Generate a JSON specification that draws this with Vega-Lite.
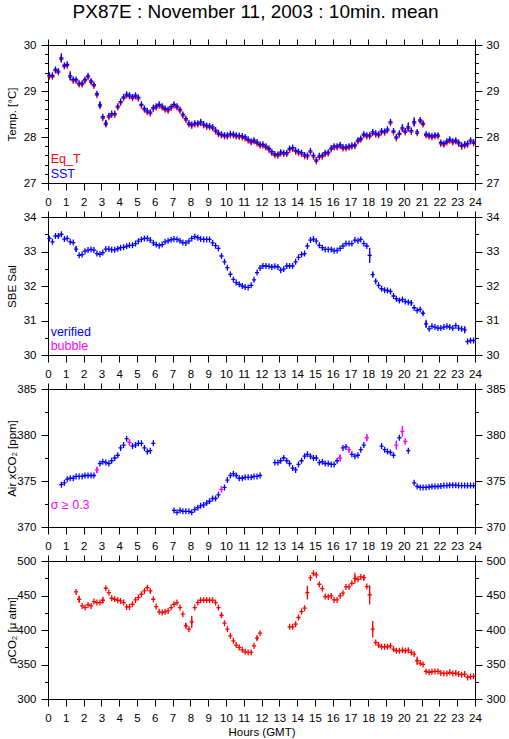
{
"$schema": "https://vega.github.io/schema/vega-lite/v6.json",
"padding": {"left": 5, "top": 2, "right": 5, "bottom": 3},
"background": "white",
"title": {"text": "PX87E : November 11, 2003 : 10min. mean", "font": "Liberation Sans", "fontSize": 19, "fontWeight": "normal", "color": "black", "anchor": "middle", "offset": 17},
"config": {
  "view": {"stroke": null},
  "axis": {"labelFont": "Liberation Sans", "labelFontSize": 11.5, "labelColor": "black", "titleFont": "Liberation Sans", "titleFontSize": 11.5, "titleFontWeight": "normal", "titleColor": "black", "domainColor": "black", "tickColor": "black", "domainWidth": 1, "tickWidth": 1, "grid": false, "labelOverlap": false, "labelFlush": false},
  "text": {"font": "Liberation Sans"}
},
"spacing": 2,
"datasets": {
"temp": [
{"h":0.08,"sst":29.34,"eqt":29.31},{"h":0.25,"sst":29.34,"eqt":29.31},{"h":0.42,"sst":29.47,"eqt":29.44},{"h":0.58,"sst":29.43,"eqt":29.40},{"h":0.75,"sst":29.72,"eqt":29.69,"e":0.1},{"h":0.92,"sst":29.56,"eqt":29.53},
{"h":1.08,"sst":29.58,"eqt":29.55},{"h":1.25,"sst":29.33,"eqt":29.30,"e":0.1},{"h":1.42,"sst":29.25,"eqt":29.22},{"h":1.58,"sst":29.25,"eqt":29.22},{"h":1.75,"sst":29.17,"eqt":29.14},{"h":1.92,"sst":29.17,"eqt":29.14},
{"h":2.08,"sst":29.25,"eqt":29.22},{"h":2.25,"sst":29.33,"eqt":29.30},{"h":2.42,"sst":29.22,"eqt":29.19},{"h":2.58,"sst":29.14,"eqt":29.11},{"h":2.75,"sst":28.94,"eqt":28.91},{"h":2.92,"sst":28.70,"eqt":28.67,"e":0.07},
{"h":3.08,"sst":28.44,"eqt":28.41},{"h":3.25,"sst":28.30,"eqt":28.27,"e":0.07},{"h":3.42,"sst":28.46,"eqt":28.43},{"h":3.58,"sst":28.51,"eqt":28.48},{"h":3.75,"sst":28.51,"eqt":28.48},{"h":3.92,"sst":28.67,"eqt":28.64},
{"h":4.08,"sst":28.77,"eqt":28.74},{"h":4.25,"sst":28.87,"eqt":28.84},{"h":4.42,"sst":28.93,"eqt":28.90},{"h":4.58,"sst":28.91,"eqt":28.88},{"h":4.75,"sst":28.87,"eqt":28.84},{"h":4.92,"sst":28.91,"eqt":28.88},
{"h":5.08,"sst":28.86,"eqt":28.83},{"h":5.25,"sst":28.71,"eqt":28.68},{"h":5.42,"sst":28.62,"eqt":28.59},{"h":5.58,"sst":28.57,"eqt":28.54},{"h":5.75,"sst":28.54,"eqt":28.51},{"h":5.92,"sst":28.64,"eqt":28.61},
{"h":6.08,"sst":28.67,"eqt":28.64},{"h":6.25,"sst":28.71,"eqt":28.68},{"h":6.42,"sst":28.67,"eqt":28.64},{"h":6.58,"sst":28.62,"eqt":28.59},{"h":6.75,"sst":28.60,"eqt":28.57},{"h":6.92,"sst":28.66,"eqt":28.63},
{"h":7.08,"sst":28.71,"eqt":28.68},{"h":7.25,"sst":28.67,"eqt":28.64},{"h":7.42,"sst":28.60,"eqt":28.57},{"h":7.58,"sst":28.49,"eqt":28.46},{"h":7.75,"sst":28.40,"eqt":28.37},{"h":7.92,"sst":28.30,"eqt":28.27},
{"h":8.08,"sst":28.27,"eqt":28.24},{"h":8.25,"sst":28.30,"eqt":28.27},{"h":8.42,"sst":28.30,"eqt":28.27},{"h":8.58,"sst":28.33,"eqt":28.30},{"h":8.75,"sst":28.28,"eqt":28.25},{"h":8.92,"sst":28.25,"eqt":28.22},
{"h":9.08,"sst":28.24,"eqt":28.21},{"h":9.25,"sst":28.22,"eqt":28.19},{"h":9.42,"sst":28.15,"eqt":28.12},{"h":9.58,"sst":28.09,"eqt":28.06},{"h":9.75,"sst":28.06,"eqt":28.03},{"h":9.92,"sst":28.04,"eqt":28.01},
{"h":10.08,"sst":28.04,"eqt":28.01},{"h":10.25,"sst":28.07,"eqt":28.04},{"h":10.42,"sst":28.06,"eqt":28.03},{"h":10.58,"sst":28.04,"eqt":28.01},{"h":10.75,"sst":28.03,"eqt":28.00},{"h":10.92,"sst":28.02,"eqt":27.99},
{"h":11.08,"sst":28.00,"eqt":27.97},{"h":11.25,"sst":27.95,"eqt":27.92},{"h":11.42,"sst":27.91,"eqt":27.88},{"h":11.58,"sst":27.93,"eqt":27.90},{"h":11.75,"sst":27.89,"eqt":27.86},{"h":11.92,"sst":27.84,"eqt":27.81},
{"h":12.08,"sst":27.84,"eqt":27.81},{"h":12.25,"sst":27.80,"eqt":27.77},{"h":12.42,"sst":27.75,"eqt":27.72},{"h":12.58,"sst":27.68,"eqt":27.65},{"h":12.75,"sst":27.63,"eqt":27.60},{"h":12.92,"sst":27.62,"eqt":27.59},
{"h":13.08,"sst":27.67,"eqt":27.64},{"h":13.25,"sst":27.66,"eqt":27.63},{"h":13.42,"sst":27.66,"eqt":27.63},{"h":13.58,"sst":27.75,"eqt":27.72},{"h":13.75,"sst":27.77,"eqt":27.74},{"h":13.92,"sst":27.71,"eqt":27.68},
{"h":14.08,"sst":27.68,"eqt":27.65},{"h":14.25,"sst":27.66,"eqt":27.63},{"h":14.42,"sst":27.61,"eqt":27.58},{"h":14.58,"sst":27.60,"eqt":27.57},{"h":14.75,"sst":27.70,"eqt":27.67},{"h":14.92,"sst":27.60,"eqt":27.57},
{"h":15.08,"sst":27.50,"eqt":27.47},{"h":15.25,"sst":27.59,"eqt":27.56},{"h":15.42,"sst":27.60,"eqt":27.57},{"h":15.58,"sst":27.66,"eqt":27.63},{"h":15.75,"sst":27.67,"eqt":27.64},{"h":15.92,"sst":27.76,"eqt":27.73},
{"h":16.08,"sst":27.80,"eqt":27.77},{"h":16.25,"sst":27.80,"eqt":27.77},{"h":16.42,"sst":27.83,"eqt":27.80},{"h":16.58,"sst":27.78,"eqt":27.75},{"h":16.75,"sst":27.78,"eqt":27.75},{"h":16.92,"sst":27.80,"eqt":27.77},
{"h":17.08,"sst":27.82,"eqt":27.79},{"h":17.25,"sst":27.83,"eqt":27.80},{"h":17.42,"sst":27.93,"eqt":27.90},{"h":17.58,"sst":27.97,"eqt":27.94},{"h":17.75,"sst":28.06,"eqt":28.03},{"h":17.92,"sst":28.04,"eqt":28.01},
{"h":18.08,"sst":28.04,"eqt":28.01},{"h":18.25,"sst":28.11,"eqt":28.08},{"h":18.42,"sst":28.08,"eqt":28.05},{"h":18.58,"sst":28.06,"eqt":28.03},{"h":18.75,"sst":28.13,"eqt":28.10},{"h":18.92,"sst":28.12,"eqt":28.09},
{"h":19.08,"sst":28.17,"eqt":28.14},{"h":19.25,"sst":28.33,"eqt":28.30},{"h":19.42,"sst":28.13,"eqt":28.10},{"h":19.58,"sst":28.00,"eqt":27.97},{"h":19.75,"sst":28.08,"eqt":28.05},{"h":19.92,"sst":28.20,"eqt":28.17,"e":0.08},
{"h":20.08,"sst":28.13,"eqt":28.10},{"h":20.25,"sst":28.22,"eqt":28.19,"e":0.1},{"h":20.42,"sst":28.14,"eqt":28.11},{"h":20.58,"sst":28.33,"eqt":28.30,"e":0.1},{"h":20.75,"sst":28.11,"eqt":28.08},{"h":20.92,"sst":28.37,"eqt":28.34},
{"h":21.08,"sst":28.30,"eqt":28.27},{"h":21.25,"sst":28.06,"eqt":28.03},{"h":21.42,"sst":28.04,"eqt":28.01},{"h":21.58,"sst":28.02,"eqt":27.99},{"h":21.75,"sst":28.04,"eqt":28.01},{"h":21.92,"sst":28.04,"eqt":28.01},
{"h":22.08,"sst":27.88,"eqt":27.85},{"h":22.25,"sst":27.86,"eqt":27.83},{"h":22.42,"sst":27.91,"eqt":27.88},{"h":22.58,"sst":27.95,"eqt":27.92},{"h":22.75,"sst":27.91,"eqt":27.88},{"h":22.92,"sst":27.93,"eqt":27.90},
{"h":23.08,"sst":27.88,"eqt":27.85},{"h":23.25,"sst":27.82,"eqt":27.79},{"h":23.42,"sst":27.84,"eqt":27.81,"e":0.06},{"h":23.58,"sst":27.86,"eqt":27.83},{"h":23.75,"sst":27.93,"eqt":27.90},{"h":23.92,"sst":27.89,"eqt":27.86}
],
"sal": [
{"h":0.08,"s":33.38},{"h":0.25,"s":33.28},{"h":0.42,"s":33.45},{"h":0.58,"s":33.45},{"h":0.75,"s":33.50},{"h":0.92,"s":33.36},
{"h":1.08,"s":33.38},{"h":1.25,"s":33.28},{"h":1.42,"s":33.26},{"h":1.58,"s":33.07,"e":0.08},{"h":1.75,"s":32.89},{"h":1.92,"s":32.91},
{"h":2.08,"s":33.01},{"h":2.25,"s":33.04},{"h":2.42,"s":33.06},{"h":2.58,"s":33.04},{"h":2.75,"s":32.94},{"h":2.92,"s":32.92},
{"h":3.08,"s":32.97},{"h":3.25,"s":33.07},{"h":3.42,"s":33.07},{"h":3.58,"s":33.05},{"h":3.75,"s":33.05},{"h":3.92,"s":33.08},
{"h":4.08,"s":33.11},{"h":4.25,"s":33.12},{"h":4.42,"s":33.15},{"h":4.58,"s":33.18},{"h":4.75,"s":33.18},{"h":4.92,"s":33.23},
{"h":5.08,"s":33.30},{"h":5.25,"s":33.35},{"h":5.42,"s":33.38},{"h":5.58,"s":33.38},{"h":5.75,"s":33.33},{"h":5.92,"s":33.25},
{"h":6.08,"s":33.20},{"h":6.25,"s":33.17},{"h":6.42,"s":33.20},{"h":6.58,"s":33.28},{"h":6.75,"s":33.31},{"h":6.92,"s":33.34},
{"h":7.08,"s":33.36},{"h":7.25,"s":33.35},{"h":7.42,"s":33.31},{"h":7.58,"s":33.26},{"h":7.75,"s":33.25},{"h":7.92,"s":33.30},
{"h":8.08,"s":33.38},{"h":8.25,"s":33.43},{"h":8.42,"s":33.40},{"h":8.58,"s":33.36},{"h":8.75,"s":33.35},{"h":8.92,"s":33.35},
{"h":9.08,"s":33.35},{"h":9.25,"s":33.25},{"h":9.42,"s":33.17},{"h":9.58,"s":33.09},{"h":9.75,"s":32.87},{"h":9.92,"s":32.70},
{"h":10.08,"s":32.53},{"h":10.25,"s":32.34},{"h":10.42,"s":32.19},{"h":10.58,"s":32.10},{"h":10.75,"s":32.05},{"h":10.92,"s":32.00},
{"h":11.08,"s":31.97},{"h":11.25,"s":31.96},{"h":11.42,"s":32.02},{"h":11.58,"s":32.18},{"h":11.75,"s":32.39},{"h":11.92,"s":32.52},
{"h":12.08,"s":32.58},{"h":12.25,"s":32.58},{"h":12.42,"s":32.57},{"h":12.58,"s":32.55},{"h":12.75,"s":32.57},{"h":12.92,"s":32.55},
{"h":13.08,"s":32.46},{"h":13.25,"s":32.49},{"h":13.42,"s":32.58},{"h":13.58,"s":32.58},{"h":13.75,"s":32.58},{"h":13.92,"s":32.70},
{"h":14.08,"s":32.83},{"h":14.25,"s":32.91},{"h":14.42,"s":32.94},{"h":14.58,"s":33.16},{"h":14.75,"s":33.33},{"h":14.92,"s":33.36},
{"h":15.08,"s":33.30},{"h":15.25,"s":33.18},{"h":15.42,"s":33.11},{"h":15.58,"s":33.06},{"h":15.75,"s":33.06},{"h":15.92,"s":33.06},
{"h":16.08,"s":33.02},{"h":16.25,"s":33.03},{"h":16.42,"s":33.09},{"h":16.58,"s":33.16},{"h":16.75,"s":33.23},{"h":16.92,"s":33.23},
{"h":17.08,"s":33.23},{"h":17.25,"s":33.33},{"h":17.42,"s":33.31},{"h":17.58,"s":33.35},{"h":17.75,"s":33.23},{"h":17.92,"s":33.16},
{"h":18.08,"s":32.89,"e":0.22},{"h":18.25,"s":32.33,"e":0.08},{"h":18.42,"s":32.14},{"h":18.58,"s":32.02},{"h":18.75,"s":31.92},{"h":18.92,"s":31.88},
{"h":19.08,"s":31.87},{"h":19.25,"s":31.84},{"h":19.42,"s":31.71},{"h":19.58,"s":31.63},{"h":19.75,"s":31.58},{"h":19.92,"s":31.61},
{"h":20.08,"s":31.55},{"h":20.25,"s":31.53},{"h":20.42,"s":31.51,"e":0.06},{"h":20.58,"s":31.37},{"h":20.75,"s":31.29},{"h":20.92,"s":31.32},
{"h":21.08,"s":31.21,"e":0.05},{"h":21.25,"s":30.90,"e":0.12},{"h":21.42,"s":30.76},{"h":21.58,"s":30.83},{"h":21.75,"s":30.81},{"h":21.92,"s":30.78},
{"h":22.08,"s":30.78},{"h":22.25,"s":30.81},{"h":22.42,"s":30.83},{"h":22.58,"s":30.81},{"h":22.75,"s":30.78},{"h":22.92,"s":30.85},
{"h":23.08,"s":30.78},{"h":23.25,"s":30.76},{"h":23.42,"s":30.73,"e":0.1},{"h":23.58,"s":30.39},{"h":23.75,"s":30.42},{"h":23.92,"s":30.42}
],
"xco2": [
{"h":0.75,"c":374.6,"f":0},{"h":0.92,"c":374.8,"f":0},{"h":1.08,"c":375.2,"f":0},{"h":1.25,"c":375.3,"f":0},{"h":1.42,"c":375.3,"f":0},{"h":1.58,"c":375.5,"f":0},
{"h":1.75,"c":375.5,"f":0},{"h":1.92,"c":375.5,"f":0},{"h":2.08,"c":375.6,"f":0},{"h":2.25,"c":375.6,"f":0},{"h":2.42,"c":375.6,"f":0},{"h":2.58,"c":375.6,"f":0},
{"h":2.75,"c":376.2,"f":1,"e":0.35},{"h":2.92,"c":376.9,"f":0},{"h":3.08,"c":377.1,"f":0},{"h":3.25,"c":377.0,"f":0},{"h":3.42,"c":376.9,"f":0},{"h":3.58,"c":377.2,"f":0},
{"h":3.75,"c":377.5,"f":0},{"h":3.92,"c":377.8,"f":0},{"h":4.08,"c":378.6,"f":0},{"h":4.25,"c":378.9,"f":0},{"h":4.42,"c":379.6,"f":0},{"h":4.58,"c":379.2,"f":1,"e":0.35},
{"h":4.75,"c":378.8,"f":0},{"h":4.92,"c":378.9,"f":0},{"h":5.08,"c":379.1,"f":0},{"h":5.25,"c":379.1,"f":0},{"h":5.42,"c":378.6,"f":0},{"h":5.58,"c":378.2,"f":0},
{"h":5.75,"c":378.3,"f":0},{"h":5.92,"c":379.1,"f":0},
{"h":7.08,"c":371.8,"f":0},{"h":7.25,"c":371.6,"f":0},{"h":7.42,"c":371.8,"f":0},{"h":7.58,"c":371.7,"f":0},{"h":7.75,"c":371.7,"f":0},{"h":7.92,"c":371.7,"f":0},
{"h":8.08,"c":371.6,"f":0},{"h":8.25,"c":371.9,"f":0},{"h":8.42,"c":372.1,"f":0},{"h":8.58,"c":372.3,"f":0},{"h":8.75,"c":372.4,"f":0},{"h":8.92,"c":372.6,"f":0},
{"h":9.08,"c":372.8,"f":0},{"h":9.25,"c":373.1,"f":0},{"h":9.42,"c":373.1,"f":0},{"h":9.58,"c":373.5,"f":0},{"h":9.75,"c":374.1,"f":1,"e":0.35},{"h":9.92,"c":374.3,"f":0},
{"h":10.08,"c":375.1,"f":0},{"h":10.25,"c":375.6,"f":0},{"h":10.42,"c":375.8,"f":0},{"h":10.58,"c":375.6,"f":0},{"h":10.75,"c":375.3,"f":0},{"h":10.92,"c":375.3,"f":0},
{"h":11.08,"c":375.4,"f":0},{"h":11.25,"c":375.4,"f":0},{"h":11.42,"c":375.4,"f":0},{"h":11.58,"c":375.5,"f":0},{"h":11.75,"c":375.5,"f":0},{"h":11.92,"c":375.6,"f":0},
{"h":12.75,"c":377.0,"f":0},{"h":12.92,"c":377.0,"f":0},
{"h":13.08,"c":377.2,"f":0},{"h":13.25,"c":377.5,"f":0},{"h":13.42,"c":377.2,"f":0},{"h":13.58,"c":376.9,"f":0},{"h":13.75,"c":376.4,"f":0},{"h":13.92,"c":376.2,"f":0},
{"h":14.08,"c":376.8,"f":0},{"h":14.25,"c":377.2,"f":0},{"h":14.42,"c":377.7,"f":0},{"h":14.58,"c":377.9,"f":0},{"h":14.75,"c":377.7,"f":0},{"h":14.92,"c":377.5,"f":0},
{"h":15.08,"c":377.5,"f":0},{"h":15.25,"c":377.0,"f":0},{"h":15.42,"c":377.1,"f":0},{"h":15.58,"c":376.9,"f":0},{"h":15.75,"c":376.9,"f":0},{"h":15.92,"c":376.8,"f":0},
{"h":16.08,"c":376.8,"f":0},{"h":16.25,"c":377.2,"f":0},{"h":16.42,"c":377.5,"f":1,"e":0.4},{"h":16.58,"c":378.6,"f":0},{"h":16.75,"c":378.7,"f":0},{"h":16.92,"c":378.4,"f":1,"e":0.3},
{"h":17.08,"c":377.9,"f":0},{"h":17.25,"c":377.7,"f":0},{"h":17.42,"c":377.8,"f":0},{"h":17.58,"c":378.4,"f":0},{"h":17.75,"c":378.9,"f":0},{"h":17.92,"c":379.7,"f":1,"e":0.4},
{"h":18.75,"c":378.8,"f":0},{"h":18.92,"c":378.4,"f":0},
{"h":19.08,"c":378.2,"f":0},{"h":19.25,"c":378.1,"f":0},{"h":19.42,"c":377.8,"f":0},{"h":19.58,"c":378.9,"f":1,"e":0.5},{"h":19.75,"c":379.7,"f":0},{"h":19.92,"c":380.4,"f":1,"e":0.6},
{"h":20.08,"c":379.3,"f":1,"e":0.3},{"h":20.25,"c":378.3,"f":0},{"h":20.58,"c":374.8,"f":0},{"h":20.75,"c":374.4,"f":0},{"h":20.92,"c":374.3,"f":0},
{"h":21.08,"c":374.3,"f":0},{"h":21.25,"c":374.3,"f":0},{"h":21.42,"c":374.35,"f":0},{"h":21.58,"c":374.4,"f":0},{"h":21.75,"c":374.4,"f":0},{"h":21.92,"c":374.4,"f":0},
{"h":22.08,"c":374.45,"f":0},{"h":22.25,"c":374.5,"f":0},{"h":22.42,"c":374.5,"f":0},{"h":22.58,"c":374.55,"f":0},{"h":22.75,"c":374.55,"f":0},{"h":22.92,"c":374.55,"f":0},
{"h":23.08,"c":374.5,"f":0},{"h":23.25,"c":374.5,"f":0},{"h":23.42,"c":374.5,"f":0},{"h":23.58,"c":374.5,"f":0},{"h":23.75,"c":374.5,"f":0},{"h":23.92,"c":374.5,"f":0}
],
"pco2": [
{"h":1.58,"p":455.2},{"h":1.75,"p":444.6,"e":5},{"h":1.92,"p":434.9},
{"h":2.08,"p":432.5},{"h":2.25,"p":436.4},{"h":2.42,"p":434.9},{"h":2.58,"p":441.2},{"h":2.75,"p":439.8},{"h":2.92,"p":439.8},
{"h":3.08,"p":443.1,"e":5},{"h":3.25,"p":460.5},{"h":3.42,"p":454.2},{"h":3.58,"p":446.0},{"h":3.75,"p":444.6},{"h":3.92,"p":443.1},
{"h":4.08,"p":442.2},{"h":4.25,"p":439.8},{"h":4.42,"p":433.5},{"h":4.58,"p":433.5},{"h":4.75,"p":437.3},{"h":4.92,"p":443.6},
{"h":5.08,"p":447.0},{"h":5.25,"p":451.8},{"h":5.42,"p":456.6},{"h":5.58,"p":461.4},{"h":5.75,"p":456.6},{"h":5.92,"p":444.6},
{"h":6.08,"p":434.0},{"h":6.25,"p":426.3},{"h":6.42,"p":425.3},{"h":6.58,"p":426.3},{"h":6.75,"p":427.7},{"h":6.92,"p":432.5},
{"h":7.08,"p":437.3},{"h":7.25,"p":439.8},{"h":7.42,"p":432.5},{"h":7.58,"p":422.9},{"h":7.75,"p":406.0,"e":4},{"h":7.92,"p":401.2},
{"h":8.08,"p":411.8,"e":9},{"h":8.25,"p":432.5},{"h":8.42,"p":439.8},{"h":8.58,"p":443.1},{"h":8.75,"p":443.1},{"h":8.92,"p":443.1},
{"h":9.08,"p":443.1},{"h":9.25,"p":443.1},{"h":9.42,"p":439.8},{"h":9.58,"p":432.5},{"h":9.75,"p":421.4,"e":4},{"h":9.92,"p":409.9},
{"h":10.08,"p":401.2},{"h":10.25,"p":391.6},{"h":10.42,"p":384.3},{"h":10.58,"p":378.1},{"h":10.75,"p":374.7},{"h":10.92,"p":371.3},
{"h":11.08,"p":368.4},{"h":11.25,"p":367.5},{"h":11.42,"p":367.5},{"h":11.58,"p":377.1},{"h":11.75,"p":388.2,"e":3},{"h":11.92,"p":395.4},
{"h":13.58,"p":404.6},{"h":13.75,"p":404.6},{"h":13.92,"p":408.4},
{"h":14.08,"p":418.1},{"h":14.25,"p":426.7},{"h":14.42,"p":431.6},{"h":14.58,"p":454.2,"e":10},{"h":14.75,"p":475.4},{"h":14.92,"p":482.2},
{"h":15.08,"p":479.8},{"h":15.25,"p":466.3},{"h":15.42,"p":460.0},{"h":15.58,"p":448.4},{"h":15.75,"p":448.0},{"h":15.92,"p":449.4},
{"h":16.08,"p":443.6},{"h":16.25,"p":443.6},{"h":16.42,"p":449.4},{"h":16.58,"p":453.3},{"h":16.75,"p":462.4},{"h":16.92,"p":462.4},
{"h":17.08,"p":467.7},{"h":17.25,"p":474.9,"e":8},{"h":17.42,"p":473.5},{"h":17.58,"p":476.9},{"h":17.75,"p":475.9,"e":4},{"h":17.92,"p":462.9},
{"h":18.08,"p":450.8,"e":14},{"h":18.25,"p":401.2,"e":12},{"h":18.42,"p":381.9},{"h":18.58,"p":378.1},{"h":18.75,"p":375.7},{"h":18.92,"p":375.7},
{"h":19.08,"p":375.7},{"h":19.25,"p":377.1},{"h":19.42,"p":372.3},{"h":19.58,"p":369.9},{"h":19.75,"p":369.9},{"h":19.92,"p":370.8},
{"h":20.08,"p":369.9},{"h":20.25,"p":370.8},{"h":20.42,"p":367.5},{"h":20.58,"p":365.1},{"h":20.75,"p":355.4,"e":6},{"h":20.92,"p":352.0},
{"h":21.08,"p":350.1},{"h":21.25,"p":340.0},{"h":21.42,"p":338.6},{"h":21.58,"p":339.5},{"h":21.75,"p":340.0},{"h":21.92,"p":340.0},
{"h":22.08,"p":337.6},{"h":22.25,"p":337.1},{"h":22.42,"p":337.1},{"h":22.58,"p":338.6},{"h":22.75,"p":337.1},{"h":22.92,"p":337.6},
{"h":23.08,"p":336.1},{"h":23.25,"p":335.2},{"h":23.42,"p":336.1},{"h":23.58,"p":331.3},{"h":23.75,"p":332.3},{"h":23.92,"p":332.8}
]
},
"vconcat": [
{
 "width": 427, "height": 138,
 "data": {"name": "temp"},
 "resolve": {"axis": {"x": "independent", "y": "independent"}},
 "layer": [
  {"data": {"values": [{}]}, "mark": {"type": "point", "opacity": 0},
   "encoding": {
    "x": {"datum": 0, "type": "quantitative", "scale": {"domain": [0, 24], "nice": false, "zero": false}, "axis": {"orient": "bottom", "values": [0,1,2,3,4,5,6,7,8,9,10,11,12,13,14,15,16,17,18,19,20,21,22,23,24], "title": null, "tickSize": 7, "labelPadding": 6, "labelOverlap": false, "labelFlush": false}},
    "y": {"datum": 27, "type": "quantitative", "scale": {"domain": [27, 30], "nice": false, "zero": false}, "axis": {"orient": "left", "values": [27,28,29,30], "format": "d", "labelOverlap": false, "tickSize": 7, "labelPadding": 5, "title": "Temp. [°C]", "titleX": -36, "titleBaseline": "middle"}}
   }},
  {"data": {"values": [{}]}, "mark": {"type": "point", "opacity": 0},
   "encoding": {
    "x": {"datum": 0, "type": "quantitative", "axis": null},
    "y": {"datum": 27, "type": "quantitative", "axis": {"orient": "left", "values": [27.2,27.4,27.6,27.8,28.2,28.4,28.6,28.8,29.2,29.4,29.6,29.8], "tickCount": 50, "labels": false, "tickSize": 3.5, "title": null}}
   }},
  {"mark": {"type": "point", "shape": "M-0.7,0H0.7M0,-1V1", "size": 36, "filled": false, "stroke": "#ff0000", "strokeWidth": 1.3, "opacity": 1},
   "encoding": {"x": {"field": "h", "type": "quantitative", "scale": {"domain": [0, 24], "nice": false, "zero": false}, "axis": null}, "y": {"field": "eqt", "type": "quantitative", "scale": {"domain": [27, 30], "nice": false, "zero": false}, "axis": null}}},
  {"mark": {"type": "point", "shape": "M-0.7,0H0.7M0,-1V1", "size": 36, "filled": false, "stroke": "#0000ff", "strokeWidth": 1.3, "opacity": 1},
   "encoding": {"x": {"field": "h", "type": "quantitative", "scale": {"domain": [0, 24], "nice": false, "zero": false}, "axis": null}, "y": {"field": "sst", "type": "quantitative", "scale": {"domain": [27, 30], "nice": false, "zero": false}, "axis": null}}},
  {"transform": [{"filter": "datum.e > 0"}], "mark": {"type": "errorbar", "color": "#0000ff", "thickness": 1.3},
   "encoding": {"x": {"field": "h", "type": "quantitative", "scale": {"domain": [0, 24], "nice": false, "zero": false}, "axis": null}, "y": {"field": "sst", "type": "quantitative", "scale": {"domain": [27, 30], "nice": false, "zero": false}, "axis": null}, "yError": {"field": "e"}}},
  {"data": {"values": [{}]}, "mark": {"type": "text", "align": "left", "baseline": "middle", "fontSize": 12.5, "color": "#ff0000"},
   "encoding": {"x": {"datum": 0.15, "type": "quantitative", "axis": null}, "y": {"datum": 27.52, "type": "quantitative", "axis": null}, "text": {"value": "Eq_T"}}},
  {"data": {"values": [{}]}, "mark": {"type": "text", "align": "left", "baseline": "middle", "fontSize": 12.5, "color": "#0000ff"},
   "encoding": {"x": {"datum": 0.15, "type": "quantitative", "axis": null}, "y": {"datum": 27.2, "type": "quantitative", "axis": null}, "text": {"value": "SST"}}},
  {"data": {"values": [{}]}, "mark": {"type": "point", "opacity": 0},
   "encoding": {
    "x": {"datum": 0, "type": "quantitative", "axis": {"orient": "top", "values": [0,1,2,3,4,5,6,7,8,9,10,11,12,13,14,15,16,17,18,19,20,21,22,23,24], "labels": false, "title": null, "tickSize": 6}},
    "y": {"datum": 27, "type": "quantitative", "axis": {"orient": "right", "values": [27,28,29,30], "format": "d", "labelOverlap": false, "tickSize": 7, "labelPadding": 4, "title": null}}
   }},
  {"data": {"values": [{}]}, "mark": {"type": "point", "opacity": 0},
   "encoding": {
    "x": {"datum": 0, "type": "quantitative", "axis": null},
    "y": {"datum": 27, "type": "quantitative", "axis": {"orient": "right", "values": [27.2,27.4,27.6,27.8,28.2,28.4,28.6,28.8,29.2,29.4,29.6,29.8], "tickCount": 50, "labels": false, "tickSize": 3.5, "title": null}}
   }}
 ]
},
{
 "width": 427, "height": 138,
 "data": {"name": "sal"},
 "resolve": {"axis": {"x": "independent", "y": "independent"}},
 "layer": [
  {"data": {"values": [{}]}, "mark": {"type": "point", "opacity": 0},
   "encoding": {
    "x": {"datum": 0, "type": "quantitative", "scale": {"domain": [0, 24], "nice": false, "zero": false}, "axis": {"orient": "bottom", "values": [0,1,2,3,4,5,6,7,8,9,10,11,12,13,14,15,16,17,18,19,20,21,22,23,24], "title": null, "tickSize": 7, "labelPadding": 6, "labelOverlap": false, "labelFlush": false}},
    "y": {"datum": 30, "type": "quantitative", "scale": {"domain": [30, 34], "nice": false, "zero": false}, "axis": {"orient": "left", "values": [30,31,32,33,34], "format": "d", "labelOverlap": false, "tickSize": 7, "labelPadding": 5, "title": "SBE Sal", "titleX": -36, "titleBaseline": "middle"}}
   }},
  {"data": {"values": [{}]}, "mark": {"type": "point", "opacity": 0},
   "encoding": {
    "x": {"datum": 0, "type": "quantitative", "axis": null},
    "y": {"datum": 30, "type": "quantitative", "axis": {"orient": "left", "values": [30.5,31.5,32.5,33.5], "tickCount": 50, "labels": false, "tickSize": 3.5, "title": null}}
   }},
  {"mark": {"type": "point", "shape": "M-0.7,0H0.7M0,-1V1", "size": 36, "filled": false, "stroke": "#0000ff", "strokeWidth": 1.3, "opacity": 1},
   "encoding": {"x": {"field": "h", "type": "quantitative", "scale": {"domain": [0, 24], "nice": false, "zero": false}, "axis": null}, "y": {"field": "s", "type": "quantitative", "scale": {"domain": [30, 34], "nice": false, "zero": false}, "axis": null}}},
  {"transform": [{"filter": "datum.e > 0"}], "mark": {"type": "errorbar", "color": "#0000ff", "thickness": 1.3},
   "encoding": {"x": {"field": "h", "type": "quantitative", "scale": {"domain": [0, 24], "nice": false, "zero": false}, "axis": null}, "y": {"field": "s", "type": "quantitative", "scale": {"domain": [30, 34], "nice": false, "zero": false}, "axis": null}, "yError": {"field": "e"}}},
  {"data": {"values": [{}]}, "mark": {"type": "text", "align": "left", "baseline": "middle", "fontSize": 12.5, "color": "#0000ff"},
   "encoding": {"x": {"datum": 0.15, "type": "quantitative", "axis": null}, "y": {"datum": 30.66, "type": "quantitative", "axis": null}, "text": {"value": "verified"}}},
  {"data": {"values": [{}]}, "mark": {"type": "text", "align": "left", "baseline": "middle", "fontSize": 12.5, "color": "#ff00ff"},
   "encoding": {"x": {"datum": 0.15, "type": "quantitative", "axis": null}, "y": {"datum": 30.27, "type": "quantitative", "axis": null}, "text": {"value": "bubble"}}},
  {"data": {"values": [{}]}, "mark": {"type": "point", "opacity": 0},
   "encoding": {
    "x": {"datum": 0, "type": "quantitative", "axis": {"orient": "top", "values": [0,1,2,3,4,5,6,7,8,9,10,11,12,13,14,15,16,17,18,19,20,21,22,23,24], "labels": false, "title": null, "tickSize": 6}},
    "y": {"datum": 30, "type": "quantitative", "axis": {"orient": "right", "values": [30,31,32,33,34], "format": "d", "labelOverlap": false, "tickSize": 7, "labelPadding": 4, "title": null}}
   }},
  {"data": {"values": [{}]}, "mark": {"type": "point", "opacity": 0},
   "encoding": {
    "x": {"datum": 0, "type": "quantitative", "axis": null},
    "y": {"datum": 30, "type": "quantitative", "axis": {"orient": "right", "values": [30.5,31.5,32.5,33.5], "tickCount": 50, "labels": false, "tickSize": 3.5, "title": null}}
   }}
 ]
},
{
 "width": 427, "height": 138,
 "data": {"name": "xco2"},
 "resolve": {"axis": {"x": "independent", "y": "independent"}},
 "layer": [
  {"data": {"values": [{}]}, "mark": {"type": "point", "opacity": 0},
   "encoding": {
    "x": {"datum": 0, "type": "quantitative", "scale": {"domain": [0, 24], "nice": false, "zero": false}, "axis": {"orient": "bottom", "values": [0,1,2,3,4,5,6,7,8,9,10,11,12,13,14,15,16,17,18,19,20,21,22,23,24], "title": null, "tickSize": 7, "labelPadding": 6, "labelOverlap": false, "labelFlush": false}},
    "y": {"datum": 370, "type": "quantitative", "scale": {"domain": [370, 385], "nice": false, "zero": false}, "axis": {"orient": "left", "values": [370,375,380,385], "format": "d", "labelOverlap": false, "tickSize": 7, "labelPadding": 5, "title": "Air xCO₂ [ppm]", "titleX": -36, "titleBaseline": "middle"}}
   }},
  {"data": {"values": [{}]}, "mark": {"type": "point", "opacity": 0},
   "encoding": {
    "x": {"datum": 0, "type": "quantitative", "axis": null},
    "y": {"datum": 370, "type": "quantitative", "axis": {"orient": "left", "values": [372.5,377.5,382.5], "tickCount": 50, "labels": false, "tickSize": 3.5, "title": null}}
   }},
  {"transform": [{"filter": "datum.f != 1"}], "mark": {"type": "point", "shape": "M-0.7,0H0.7M0,-1V1", "size": 36, "filled": false, "stroke": "#0000ff", "strokeWidth": 1.3, "opacity": 1},
   "encoding": {"x": {"field": "h", "type": "quantitative", "scale": {"domain": [0, 24], "nice": false, "zero": false}, "axis": null}, "y": {"field": "c", "type": "quantitative", "scale": {"domain": [370, 385], "nice": false, "zero": false}, "axis": null}}},
  {"transform": [{"filter": "datum.f == 1"}], "mark": {"type": "point", "shape": "M-0.7,0H0.7M0,-1V1", "size": 36, "filled": false, "stroke": "#ff00ff", "strokeWidth": 1.3, "opacity": 1},
   "encoding": {"x": {"field": "h", "type": "quantitative", "scale": {"domain": [0, 24], "nice": false, "zero": false}, "axis": null}, "y": {"field": "c", "type": "quantitative", "scale": {"domain": [370, 385], "nice": false, "zero": false}, "axis": null}}},
  {"transform": [{"filter": "datum.e > 0"}], "mark": {"type": "errorbar", "color": "#ff00ff", "thickness": 1.3},
   "encoding": {"x": {"field": "h", "type": "quantitative", "scale": {"domain": [0, 24], "nice": false, "zero": false}, "axis": null}, "y": {"field": "c", "type": "quantitative", "scale": {"domain": [370, 385], "nice": false, "zero": false}, "axis": null}, "yError": {"field": "e"}}},
  {"data": {"values": [{}]}, "mark": {"type": "text", "align": "left", "baseline": "middle", "fontSize": 12.5, "color": "#ff00ff"},
   "encoding": {"x": {"datum": 0.15, "type": "quantitative", "axis": null}, "y": {"datum": 372.4, "type": "quantitative", "axis": null}, "text": {"value": "σ ≥ 0.3"}}},
  {"data": {"values": [{}]}, "mark": {"type": "point", "opacity": 0},
   "encoding": {
    "x": {"datum": 0, "type": "quantitative", "axis": {"orient": "top", "values": [0,1,2,3,4,5,6,7,8,9,10,11,12,13,14,15,16,17,18,19,20,21,22,23,24], "labels": false, "title": null, "tickSize": 6}},
    "y": {"datum": 370, "type": "quantitative", "axis": {"orient": "right", "values": [370,375,380,385], "format": "d", "labelOverlap": false, "tickSize": 7, "labelPadding": 4, "title": null}}
   }},
  {"data": {"values": [{}]}, "mark": {"type": "point", "opacity": 0},
   "encoding": {
    "x": {"datum": 0, "type": "quantitative", "axis": null},
    "y": {"datum": 370, "type": "quantitative", "axis": {"orient": "right", "values": [372.5,377.5,382.5], "tickCount": 50, "labels": false, "tickSize": 3.5, "title": null}}
   }}
 ]
},
{
 "width": 427, "height": 138,
 "data": {"name": "pco2"},
 "resolve": {"axis": {"x": "independent", "y": "independent"}},
 "layer": [
  {"data": {"values": [{}]}, "mark": {"type": "point", "opacity": 0},
   "encoding": {
    "x": {"datum": 0, "type": "quantitative", "scale": {"domain": [0, 24], "nice": false, "zero": false}, "axis": {"orient": "bottom", "values": [0,1,2,3,4,5,6,7,8,9,10,11,12,13,14,15,16,17,18,19,20,21,22,23,24], "title": "Hours (GMT)", "titlePadding": 3, "tickSize": 7, "labelPadding": 6, "labelOverlap": false, "labelFlush": false}},
    "y": {"datum": 300, "type": "quantitative", "scale": {"domain": [300, 500], "nice": false, "zero": false}, "axis": {"orient": "left", "values": [300,350,400,450,500], "format": "d", "labelOverlap": false, "tickSize": 7, "labelPadding": 5, "title": "ρCO₂ [μ atm]", "titleX": -36, "titleBaseline": "middle"}}
   }},
  {"data": {"values": [{}]}, "mark": {"type": "point", "opacity": 0},
   "encoding": {
    "x": {"datum": 0, "type": "quantitative", "axis": null},
    "y": {"datum": 300, "type": "quantitative", "axis": {"orient": "left", "values": [325,375,425,475], "tickCount": 50, "labels": false, "tickSize": 3.5, "title": null}}
   }},
  {"mark": {"type": "point", "shape": "M-0.7,0H0.7M0,-1V1", "size": 36, "filled": false, "stroke": "#ff0000", "strokeWidth": 1.3, "opacity": 1},
   "encoding": {"x": {"field": "h", "type": "quantitative", "scale": {"domain": [0, 24], "nice": false, "zero": false}, "axis": null}, "y": {"field": "p", "type": "quantitative", "scale": {"domain": [300, 500], "nice": false, "zero": false}, "axis": null}}},
  {"transform": [{"filter": "datum.e > 0"}], "mark": {"type": "errorbar", "color": "#ff0000", "thickness": 1.3},
   "encoding": {"x": {"field": "h", "type": "quantitative", "scale": {"domain": [0, 24], "nice": false, "zero": false}, "axis": null}, "y": {"field": "p", "type": "quantitative", "scale": {"domain": [300, 500], "nice": false, "zero": false}, "axis": null}, "yError": {"field": "e"}}},
  {"data": {"values": [{}]}, "mark": {"type": "point", "opacity": 0},
   "encoding": {
    "x": {"datum": 0, "type": "quantitative", "axis": {"orient": "top", "values": [0,1,2,3,4,5,6,7,8,9,10,11,12,13,14,15,16,17,18,19,20,21,22,23,24], "labels": false, "title": null, "tickSize": 6}},
    "y": {"datum": 300, "type": "quantitative", "axis": {"orient": "right", "values": [300,350,400,450,500], "format": "d", "labelOverlap": false, "tickSize": 7, "labelPadding": 4, "title": null}}
   }},
  {"data": {"values": [{}]}, "mark": {"type": "point", "opacity": 0},
   "encoding": {
    "x": {"datum": 0, "type": "quantitative", "axis": null},
    "y": {"datum": 300, "type": "quantitative", "axis": {"orient": "right", "values": [325,375,425,475], "tickCount": 50, "labels": false, "tickSize": 3.5, "title": null}}
   }}
 ]
}
]
}
